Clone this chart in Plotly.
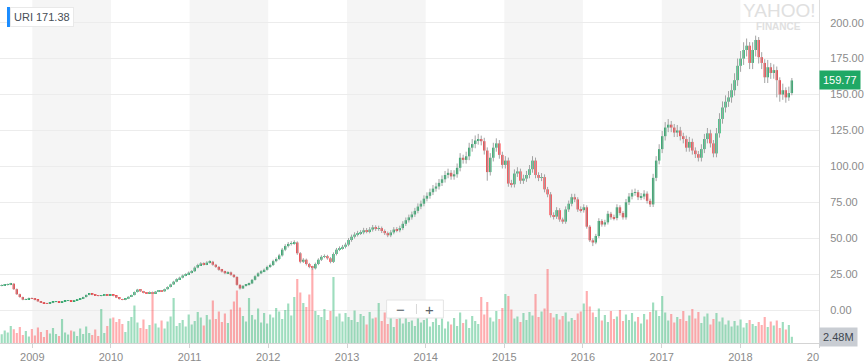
import pandas as pd
import plotly.graph_objects as go

# ---------------- data (bi-weekly candles) ----------------
START_DATE = "2008-08-12"
TICKER_LABEL = "URI 171.38"
LAST_PRICE_LABEL = "159.77"
LAST_PRICE = 159.77
LAST_VOLUME_LABEL = "2.48M"
LAST_VOLUME = 2.48

OPEN = [
    17.0, 17.2, 17.5, 17.8, 18.3, 14.5, 11.0, 9.0, 7.2, 7.5,
    8.3, 8.0, 7.0, 6.0, 5.2, 4.8, 4.5, 5.0, 5.6, 5.8,
    5.4, 6.0, 6.4, 6.5, 6.2, 6.8, 7.4, 7.8, 9.0, 10.5,
    11.2, 10.6, 10.2, 9.8, 10.0, 10.6, 10.2, 10.5, 9.8, 8.6,
    7.6, 7.0, 7.8, 9.2, 10.4, 12.5, 14.2, 13.0, 12.0, 11.8,
    12.5, 11.6, 12.8, 13.5, 13.0, 14.5, 16.0, 17.8, 19.7, 21.5,
    22.5, 24.0, 24.8, 26.0, 27.0, 29.5, 31.3, 32.4, 31.8, 33.0,
    33.6, 31.5, 30.0, 28.0, 26.8, 25.6, 26.2, 24.5, 23.0, 17.5,
    15.0, 16.8, 17.5, 18.5, 21.0, 23.5, 25.5, 27.0, 28.0, 30.0,
    31.3, 34.0, 35.5, 38.0, 42.0, 44.5, 46.0, 46.6, 47.0, 39.5,
    33.6, 35.0, 32.0, 30.0, 29.0, 32.0, 35.0, 37.0, 37.5, 36.0,
    33.5, 39.0, 42.0, 43.0, 44.0, 45.5, 48.7, 51.0, 52.5, 53.5,
    54.0, 55.5, 54.8, 56.0, 57.5, 56.5, 57.0, 55.0, 53.5, 52.0,
    54.0, 56.0, 55.5, 57.0, 60.0, 62.5, 64.5, 66.5, 69.0, 72.0,
    74.0, 77.5, 79.5, 82.0, 84.5, 86.0, 88.5, 91.0, 94.0, 95.5,
    93.0, 94.5, 99.0, 106.0, 104.5, 107.0, 113.0, 115.5, 118.0, 119.0,
    117.5, 111.0, 96.0, 106.0, 113.0, 116.0, 108.0, 101.0, 104.0, 88.0,
    87.5, 95.0, 96.5, 90.0, 91.5, 94.0, 98.0, 104.0, 94.0, 92.0,
    92.5, 84.0, 80.5, 66.0, 65.0, 69.5, 63.0, 61.5, 70.0, 74.0,
    78.5, 77.0, 70.0, 69.5, 71.5, 58.0, 48.5, 47.0, 51.5, 62.0,
    59.5, 61.0, 67.0, 64.5, 64.0, 71.5, 67.5, 64.5, 75.0, 79.0,
    81.5, 82.0, 78.5, 79.0, 81.0, 76.0, 73.5, 92.0, 104.0, 112.0,
    121.0, 127.0, 129.0, 127.0, 123.5, 125.0, 121.0, 119.0, 113.0, 117.0,
    111.0, 108.5, 106.0, 112.0, 119.0, 123.0, 116.0, 109.0, 123.0, 133.0,
    141.0, 145.0, 148.0, 153.0, 160.0, 170.0, 175.0, 181.0, 184.0, 172.0,
    181.0, 188.0, 176.0, 172.0, 162.0, 169.0, 165.0, 167.0, 160.0, 150.0,
    153.0, 148.0, 151.0,
]

HIGH = [
    17.8, 18.0, 18.4, 18.9, 18.6, 15.0, 11.4, 9.3, 7.9, 8.7,
    8.7, 8.3, 7.3, 6.2, 5.5, 5.0, 5.3, 5.9, 6.1, 6.0,
    6.2, 6.6, 6.8, 6.7, 7.0, 7.6, 8.1, 9.3, 10.8, 11.6,
    11.5, 10.9, 10.4, 10.3, 10.9, 10.9, 10.8, 10.7, 10.0, 8.8,
    7.8, 8.1, 9.5, 10.7, 12.9, 14.7, 14.5, 13.3, 12.4, 12.9,
    12.8, 13.2, 13.9, 13.9, 14.9, 16.5, 18.3, 20.3, 22.1, 23.2,
    24.7, 25.6, 26.8, 27.8, 30.4, 32.2, 33.3, 33.2, 34.0, 34.6,
    34.2, 32.1, 30.6, 28.6, 27.4, 27.0, 26.8, 25.1, 23.5, 17.9,
    17.4, 18.1, 19.1, 21.6, 24.2, 26.3, 27.8, 28.9, 30.9, 32.3,
    35.0, 36.6, 39.1, 43.2, 45.8, 47.3, 47.9, 48.5, 47.8, 40.3,
    36.1, 35.8, 32.8, 30.8, 33.0, 36.0, 38.1, 38.7, 38.4, 36.8,
    40.1, 43.2, 44.3, 45.3, 46.9, 50.1, 52.5, 54.1, 55.1, 55.6,
    57.2, 57.1, 57.7, 59.2, 59.0, 58.7, 58.1, 56.1, 54.6, 55.6,
    57.7, 57.7, 58.7, 61.8, 64.4, 66.4, 68.5, 71.1, 74.2, 76.2,
    79.8, 81.9, 84.5, 87.0, 88.6, 91.2, 93.7, 96.8, 98.4, 97.4,
    97.3, 102.0, 109.2, 108.1, 110.2, 116.4, 119.0, 121.5, 122.6, 121.4,
    119.9, 113.2, 109.2, 116.4, 119.5, 118.3, 110.2, 107.1, 106.1, 90.6,
    97.9, 99.4, 98.4, 94.2, 96.8, 100.9, 107.1, 106.1, 95.9, 95.3,
    94.4, 85.7, 82.1, 68.0, 71.6, 70.9, 64.3, 72.1, 76.2, 80.9,
    80.9, 78.5, 72.1, 73.6, 72.9, 59.2, 49.9, 53.0, 63.9, 63.2,
    62.8, 69.0, 68.3, 66.4, 73.6, 72.9, 68.8, 77.3, 81.4, 83.9,
    84.5, 83.6, 81.4, 83.4, 82.6, 77.5, 94.8, 107.1, 115.4, 124.6,
    130.8, 132.9, 131.6, 129.5, 128.8, 127.5, 123.4, 121.4, 120.5, 119.3,
    113.2, 110.7, 115.4, 122.6, 126.7, 125.5, 118.3, 126.7, 137.0, 145.2,
    149.4, 152.4, 157.6, 164.8, 175.1, 180.3, 186.4, 189.0, 186.5, 186.4,
    191.0, 190.0, 179.5, 174.6, 174.1, 172.0, 171.0, 169.5, 162.0, 157.6,
    155.0, 155.5, 161.5,
]

LOW = [
    16.5, 16.8, 17.0, 17.3, 14.0, 10.5, 8.6, 6.8, 6.9, 7.2,
    7.6, 6.7, 5.7, 4.9, 4.5, 4.2, 4.3, 4.8, 5.4, 5.2,
    5.2, 5.8, 6.2, 6.0, 6.0, 6.6, 7.2, 7.6, 8.8, 10.2,
    10.3, 9.9, 9.5, 9.5, 9.8, 9.9, 10.0, 9.5, 8.3, 7.3,
    6.8, 6.8, 7.6, 9.0, 10.2, 12.2, 12.6, 11.6, 11.4, 11.5,
    11.2, 11.4, 12.5, 12.7, 12.8, 14.2, 15.7, 17.4, 19.3, 21.0,
    22.0, 23.5, 24.3, 25.4, 26.5, 29.0, 30.7, 31.0, 31.2, 32.3,
    30.8, 29.3, 27.3, 26.1, 24.9, 25.0, 23.8, 22.3, 16.9, 14.2,
    14.6, 16.3, 17.0, 18.0, 20.5, 23.0, 24.9, 26.3, 27.4, 29.3,
    30.6, 33.2, 34.7, 37.2, 41.0, 43.5, 44.9, 45.4, 38.4, 32.5,
    32.7, 31.0, 29.1, 27.8, 28.2, 31.2, 34.1, 36.1, 35.0, 32.5,
    32.7, 38.0, 41.0, 42.0, 42.9, 44.4, 47.5, 49.7, 51.2, 52.2,
    52.7, 53.4, 53.4, 54.6, 55.1, 55.1, 53.6, 52.2, 50.7, 50.7,
    52.7, 54.1, 54.1, 55.6, 58.5, 60.9, 62.9, 64.8, 67.3, 70.2,
    72.2, 75.6, 77.5, 80.0, 82.4, 83.9, 86.3, 88.7, 91.7, 90.7,
    90.7, 92.1, 96.5, 101.9, 101.9, 104.3, 110.2, 112.6, 115.1, 114.6,
    108.2, 90.0, 93.6, 103.4, 110.2, 105.3, 98.5, 98.5, 85.8, 85.3,
    85.3, 92.6, 87.8, 87.8, 89.2, 91.7, 95.6, 91.7, 89.7, 89.7,
    81.9, 78.5, 64.4, 63.0, 63.4, 61.4, 60.0, 60.0, 68.3, 72.2,
    75.1, 68.3, 67.8, 67.8, 56.6, 47.3, 44.5, 45.8, 50.2, 58.0,
    58.0, 59.5, 62.9, 62.4, 62.4, 65.8, 62.9, 62.9, 73.1, 77.0,
    79.5, 76.5, 76.5, 77.0, 74.1, 71.7, 71.7, 89.7, 101.4, 109.2,
    118.0, 123.8, 123.8, 120.4, 120.4, 118.0, 116.0, 110.2, 110.2, 108.2,
    105.8, 103.4, 103.4, 109.2, 116.0, 113.1, 106.3, 106.3, 120.0, 129.7,
    137.5, 141.4, 144.3, 149.2, 156.0, 165.8, 170.6, 176.5, 167.7, 167.7,
    176.5, 171.6, 167.7, 158.0, 158.0, 160.9, 161.0, 148.0, 145.0, 146.3,
    144.3, 145.6, 149.5,
]

CLOSE = [
    17.2, 17.5, 17.8, 18.3, 14.5, 11.0, 9.0, 7.2, 7.5, 8.3,
    8.0, 7.0, 6.0, 5.2, 4.8, 4.5, 5.0, 5.6, 5.8, 5.4,
    6.0, 6.4, 6.5, 6.2, 6.8, 7.4, 7.8, 9.0, 10.5, 11.2,
    10.6, 10.2, 9.8, 10.0, 10.6, 10.2, 10.5, 9.8, 8.6, 7.6,
    7.0, 7.8, 9.2, 10.4, 12.5, 14.2, 13.0, 12.0, 11.8, 12.5,
    11.6, 12.8, 13.5, 13.0, 14.5, 16.0, 17.8, 19.7, 21.5, 22.5,
    24.0, 24.8, 26.0, 27.0, 29.5, 31.3, 32.4, 31.8, 33.0, 33.6,
    31.5, 30.0, 28.0, 26.8, 25.6, 26.2, 24.5, 23.0, 17.5, 15.0,
    16.8, 17.5, 18.5, 21.0, 23.5, 25.5, 27.0, 28.0, 30.0, 31.3,
    34.0, 35.5, 38.0, 42.0, 44.5, 46.0, 46.6, 47.0, 39.5, 33.6,
    35.0, 32.0, 30.0, 29.0, 32.0, 35.0, 37.0, 37.5, 36.0, 33.5,
    39.0, 42.0, 43.0, 44.0, 45.5, 48.7, 51.0, 52.5, 53.5, 54.0,
    55.5, 54.8, 56.0, 57.5, 56.5, 57.0, 55.0, 53.5, 52.0, 54.0,
    56.0, 55.5, 57.0, 60.0, 62.5, 64.5, 66.5, 69.0, 72.0, 74.0,
    77.5, 79.5, 82.0, 84.5, 86.0, 88.5, 91.0, 94.0, 95.5, 93.0,
    94.5, 99.0, 106.0, 104.5, 107.0, 113.0, 115.5, 118.0, 119.0, 117.5,
    111.0, 96.0, 106.0, 113.0, 116.0, 108.0, 101.0, 104.0, 88.0, 87.5,
    95.0, 96.5, 90.0, 91.5, 94.0, 98.0, 104.0, 94.0, 92.0, 92.5,
    84.0, 80.5, 66.0, 65.0, 69.5, 63.0, 61.5, 70.0, 74.0, 78.5,
    77.0, 70.0, 69.5, 71.5, 58.0, 48.5, 47.0, 51.5, 62.0, 59.5,
    61.0, 67.0, 64.5, 64.0, 71.5, 67.5, 64.5, 75.0, 79.0, 81.5,
    82.0, 78.5, 79.0, 81.0, 76.0, 73.5, 92.0, 104.0, 112.0, 121.0,
    127.0, 129.0, 127.0, 123.5, 125.0, 121.0, 119.0, 113.0, 117.0, 111.0,
    108.5, 106.0, 112.0, 119.0, 123.0, 116.0, 109.0, 123.0, 133.0, 141.0,
    145.0, 148.0, 153.0, 160.0, 170.0, 175.0, 181.0, 184.0, 172.0, 181.0,
    188.0, 176.0, 172.0, 162.0, 169.0, 165.0, 167.0, 160.0, 150.0, 153.0,
    148.0, 151.0, 159.8,
]

VOLUME_M = [
    3.5, 5.0, 4.2, 6.8, 5.5, 4.0, 6.4, 3.2, 4.8, 2.6,
    5.6, 3.0, 6.2, 4.4, 2.4, 5.2, 3.8, 6.0, 3.6, 2.8,
    9.6, 4.2, 3.4, 5.0, 4.6, 2.8, 5.8, 3.6, 6.6, 4.0,
    3.2, 5.4, 2.8, 13.6, 4.0, 6.8, 9.8, 10.2, 8.4, 9.6,
    7.6, 4.4, 8.8, 10.4, 15.0, 8.2, 6.0, 9.4, 5.6, 7.2,
    19.6, 7.8, 6.2, 9.0, 5.8, 8.6, 10.6, 18.0, 6.8, 8.0,
    9.2, 6.6, 11.4, 7.4, 8.8, 12.4, 10.2, 7.0, 11.2, 9.4,
    17.0, 9.6, 12.6, 8.4, 11.8, 8.0, 13.4, 16.6, 21.0, 14.2,
    10.8, 8.6, 18.0, 11.2, 9.4, 13.8, 8.2, 12.0, 7.8, 11.4,
    10.2, 14.0, 12.6, 9.6, 13.2, 15.8, 11.0, 18.4, 25.6, 20.2,
    16.0, 14.4, 19.4, 29.6, 12.8, 11.2, 10.4, 13.6, 9.2, 12.8,
    26.4, 10.6, 11.8, 8.6, 12.0, 10.4, 9.2, 13.0, 8.4, 11.6,
    10.8, 7.4, 12.4, 9.8, 10.2, 16.0, 8.8, 12.2, 7.6, 10.0,
    6.4, 9.6, 11.0, 7.8, 12.6, 8.4, 9.0, 6.8, 10.4, 8.2,
    9.2, 11.6, 6.6, 8.4, 10.8, 7.2, 9.8, 5.8, 8.6, 7.4,
    10.0, 6.8, 12.2, 8.0, 9.4, 6.0, 10.8, 8.8, 7.6, 18.4,
    11.4, 16.4, 10.2, 8.6, 12.8, 9.6, 14.0, 19.6, 18.8, 13.4,
    9.8, 10.6, 8.4, 12.0, 9.2, 12.4, 11.0, 19.6, 10.4, 12.6,
    13.8, 29.6, 12.0, 10.2, 11.6, 9.4, 10.8, 12.2, 8.6, 10.0,
    9.2, 11.8, 12.6, 15.8, 20.8, 14.6, 12.2, 10.4, 13.8, 9.0,
    11.2, 8.4, 12.8, 9.6, 10.6, 13.2, 8.8, 11.4, 9.2, 12.0,
    8.6, 10.4, 7.8, 11.6, 9.4, 12.4, 16.2, 13.0, 10.8, 18.8,
    12.2, 9.0, 11.6, 8.2, 10.4, 9.6, 12.8, 8.8, 11.0, 13.6,
    9.8, 12.4, 8.0, 10.6, 11.8, 7.4, 9.6, 12.0, 8.6, 10.2,
    7.4, 9.0, 6.6, 8.8, 7.0, 9.4, 6.2, 8.0, 9.2, 7.6,
    6.8, 8.4, 7.2, 10.4, 6.4, 8.6, 7.0, 9.0, 6.0, 8.4,
    5.4, 7.2, 2.48,
]

YEAR_TICKS = ["2009", "2010", "2011", "2012", "2013", "2014", "2015",
              "2016", "2017", "2018", "2019"]
PRICE_TICKS = [0, 25, 50, 75, 100, 125, 150, 175, 200]
SHADED_YEARS = [2009, 2011, 2013, 2015, 2017]

# ---------------- styling ----------------
GREEN = "#10ad60"
RED = "#fe3238"
VOL_GREEN = "rgba(25,175,100,0.42)"
VOL_RED = "rgba(254,50,56,0.40)"
WICK = "#a3a3a3"
FONT_FAMILY = "Liberation Sans, Arial, sans-serif"
AXIS_FONT = dict(family=FONT_FAMILY, size=11, color="#8b8b8b")

n = len(CLOSE)
dates = pd.date_range(START_DATE, periods=n, freq="14D")
up = [c >= o for o, c in zip(OPEN, CLOSE)]
body_colors = [GREEN if u else RED for u in up]
vol_colors = [VOL_GREEN if u else VOL_RED for u in up]
DAY_MS = 24 * 3600 * 1000
BODY_W = 11 * DAY_MS
VOL_W = 10 * DAY_MS

wick_x, wick_y = [], []
for d, lo, hi in zip(dates, LOW, HIGH):
    wick_x += [d, d, None]
    wick_y += [lo, hi, None]

fig = go.Figure()
# volume (main y axis, hidden)
fig.add_trace(go.Bar(x=dates, y=VOLUME_M, marker=dict(color=vol_colors, line_width=0),
                     width=VOL_W, yaxis="y", hoverinfo="skip", showlegend=False))
# wicks
fig.add_trace(go.Scatter(x=wick_x, y=wick_y, mode="lines", line=dict(color=WICK, width=1),
                         yaxis="y2", hoverinfo="skip", showlegend=False))
# candle bodies
fig.add_trace(go.Bar(x=dates, y=[c - o for o, c in zip(OPEN, CLOSE)], base=OPEN,
                     marker=dict(color=body_colors, line_width=0), width=BODY_W,
                     yaxis="y2", hoverinfo="skip", showlegend=False))

PW, PH = 822.0, 343.0
def px(x):
    return x / PW
def py(y):
    return 1 - y / PH

shapes = []
for yr in SHADED_YEARS:
    shapes.append(dict(type="rect", xref="x", yref="paper", x0=f"{yr}-01-01", x1=f"{yr+1}-01-01",
                       y0=0, y1=1, fillcolor="#f5f5f5", line_width=0, layer="below"))
# ticker badge blue bar
shapes.append(dict(type="rect", xref="paper", yref="paper", x0=px(7), x1=px(10), y0=py(27), y1=py(7),
                   fillcolor="#1a8cff", line_width=0, layer="above"))
# zoom control box
shapes.append(dict(type="rect", xref="paper", yref="paper", x0=px(388), x1=px(445), y0=py(318), y1=py(300),
                   fillcolor="white", line=dict(color="#e4e4e4", width=1), layer="above"))
shapes.append(dict(type="line", xref="paper", yref="paper", x0=px(418), x1=px(418), y0=py(314), y1=py(304),
                   line=dict(color="#d8d8d8", width=1), layer="above"))

annotations = [
    dict(text=TICKER_LABEL, xref="paper", yref="paper", x=px(10), y=py(17), xanchor="left", yanchor="middle",
         showarrow=False, bgcolor="white", bordercolor="#e9e9e9", borderwidth=1, borderpad=3,
         font=dict(family=FONT_FAMILY, size=11, color="#464e56")),
    dict(text=LAST_PRICE_LABEL, xref="paper", yref="y2", x=1, y=LAST_PRICE, xanchor="left", yanchor="middle",
         showarrow=False, bgcolor="#1fa865", borderpad=3,
         font=dict(family=FONT_FAMILY, size=11, color="white")),
    dict(text=LAST_VOLUME_LABEL, xref="paper", yref="y", x=1, y=LAST_VOLUME, xanchor="left", yanchor="middle",
         showarrow=False, bgcolor="#c9cdd3", borderpad=3,
         font=dict(family=FONT_FAMILY, size=11, color="#3f4750")),
    dict(text="YAHOO!", xref="paper", yref="paper", x=px(782), y=py(11), xanchor="center", yanchor="middle",
         showarrow=False, font=dict(family=FONT_FAMILY, size=19, color="#e0e0e0")),
    dict(text="<b>FINANCE</b>", xref="paper", yref="paper", x=px(781), y=py(26), xanchor="center", yanchor="middle",
         showarrow=False, font=dict(family=FONT_FAMILY, size=10, color="#e0e0e0")),
    dict(text="\u2212", xref="paper", yref="paper", x=px(402), y=py(309), xanchor="center", yanchor="middle",
         showarrow=False, font=dict(family=FONT_FAMILY, size=15, color="#5b636a")),
    dict(text="+", xref="paper", yref="paper", x=px(431), y=py(309), xanchor="center", yanchor="middle",
         showarrow=False, font=dict(family=FONT_FAMILY, size=15, color="#5b636a")),
]

tick_text = YEAR_TICKS[:-1] + [YEAR_TICKS[-1][:2] + "\u00a0\u00a0\u00a0\u00a0"]

fig.update_layout(
    width=864, height=364,
    margin=dict(l=0, r=42, t=0, b=21),
    paper_bgcolor="white", plot_bgcolor="white",
    barmode="overlay", showlegend=False, hovermode=False,
    xaxis=dict(type="date", range=["2008-08-04", "2019-01-01"],
               tickvals=[f"{y}-01-01" for y in YEAR_TICKS], ticktext=tick_text,
               showgrid=False, zeroline=False, showline=True, linecolor="#d4d4d4",
               ticks="outside", ticklen=4, tickcolor="#d4d4d4", tickfont=AXIS_FONT),
    yaxis=dict(range=[0, PH / 2.5], visible=False, fixedrange=True),
    yaxis2=dict(overlaying="y", side="right", range=[-22.97, 215.8],
                tickvals=PRICE_TICKS, tickformat=".2f", showgrid=True, gridcolor="#ececec",
                zeroline=False, showline=True, linecolor="#dedede",
                ticks="outside", ticklen=8, tickcolor="rgba(0,0,0,0)", tickfont=AXIS_FONT),
    shapes=shapes,
    annotations=annotations,
)

fig.write_html("out.html", config={"displayModeBar": False},
               post_script="document.body.style.margin='0';document.body.style.overflow='hidden';")
